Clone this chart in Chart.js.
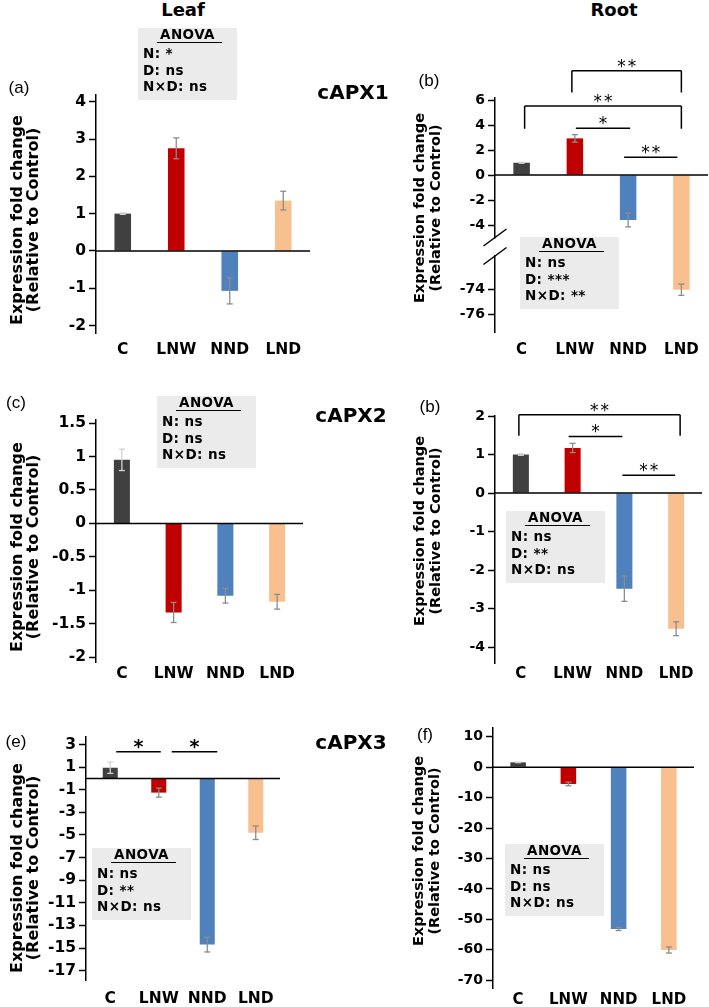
<!DOCTYPE html>
<html>
<head>
<meta charset="utf-8">
<script src="https://cdn.jsdelivr.net/npm/chart.js@4.4.0/dist/chart.umd.min.js"></script>
<style>
  html, body { margin: 0; padding: 0; background: #fff; }
  #fig { position: relative; width: 709px; height: 1007px; overflow: hidden;
         font-family: "DejaVu Sans", Verdana, sans-serif; color: #000; }
  #fig canvas { position: absolute; }
  .txt { position: absolute; white-space: nowrap; transform: translate(-50%, -50%); line-height: 1; }
  .ytitle { position: absolute; white-space: nowrap; text-align: center; font-weight: bold;
            transform: translate(-50%, -50%) rotate(-90deg); }
  .anova { position: absolute; width: 99px; height: 72px; background: #ebebeb;
           font-weight: bold; font-size: 13.5px; letter-spacing: 0.4px; }
  .anova .ah { position: absolute; left: 0; width: 100%; top: 7px; text-align: center;
               transform: translateY(-50%); line-height: 1; }
  .anova .ul { position: absolute; left: 19px; width: 65px; top: 13.5px; height: 1.5px; background: #000; }
  .anova .al { position: absolute; left: 5px; transform: translateY(-50%); line-height: 1; white-space: nowrap; }
</style>
</head>
<body>
<div id="fig"></div>
<script>
// ---- data ----
const categories = ['C', 'LNW', 'NND', 'LND'];
const barColors = ['#404040', '#c00000', '#4f81bd', '#f9c08f'];

const leafAPX1 = [1.0, 2.75, -1.07, 1.35];
const leafAPX1Err = [0.02, 0.28, 0.35, 0.25];
const rootAPX1 = [0.98, 2.93, -3.6, -74.0];
const rootAPX1Err = [0.04, 0.3, 0.55, 0.45];
const leafAPX2 = [0.95, -1.33, -1.08, -1.17];
const leafAPX2Err = [0.16, 0.15, 0.11, 0.11];
const rootAPX2 = [1.0, 1.17, -2.48, -3.52];
const rootAPX2Err = [0.02, 0.12, 0.33, 0.18];
const leafAPX3 = [0.95, -1.25, -14.7, -4.8];
const leafAPX3Err = [0.5, 0.4, 0.65, 0.6];
const rootAPX3 = [1.6, -5.5, -53.2, -60.1];
const rootAPX3Err = [0.1, 0.6, 0.5, 1.0];

const ticksLeaf1 = [4, 3, 2, 1, 0, -1, -2];
const ticksRoot1 = [6, 4, 2, 0, -2, -4, -74, -76];
const ticksLeaf2 = [1.5, 1, 0.5, 0, -0.5, -1, -1.5, -2];
const ticksRoot2 = [2, 1, 0, -1, -2, -3, -4];
const ticksLeaf3 = [3, 1, -1, -3, -5, -7, -9, -11, -13, -15, -17];
const ticksRoot3 = [10, 0, -10, -20, -30, -40, -50, -60, -70];

const anovaLeaf1 = ['N: *', 'D: ns', 'N×D: ns'];
const anovaRoot1 = ['N: ns', 'D: ***', 'N×D: **'];
const anovaLeaf2 = ['N: ns', 'D: ns', 'N×D: ns'];
const anovaRoot2 = ['N: ns', 'D: **', 'N×D: ns'];
const anovaLeaf3 = ['N: ns', 'D: **', 'N×D: ns'];
const anovaRoot3 = ['N: ns', 'D: ns', 'N×D: ns'];

const yTitle = ['Expression fold change', '(Relative to Control)'];
const FONT = '"DejaVu Sans", Verdana, sans-serif';

// y scale with a gap between two value ranges
class BrokenScale extends Chart.LinearScale {
  _k() {
    const b = this.options.brk;
    return (this.bottom - this.top - b.gap) / ((this.max - b.hi) + (b.lo - this.min));
  }
  getPixelForValue(value) {
    const b = this.options.brk, k = this._k();
    if (value >= b.hi) return this.top + k * (this.max - value);
    if (value <= b.lo) return this.bottom - k * (value - this.min);
    return this.top + k * (this.max - b.hi) + b.gap * (b.hi - value) / (b.hi - b.lo);
  }
  getValueForPixel(px) {
    const b = this.options.brk, k = this._k();
    const yHi = this.top + k * (this.max - b.hi), yLo = yHi + b.gap;
    if (px <= yHi) return this.max - (px - this.top) / k;
    if (px >= yLo) return this.min + (this.bottom - px) / k;
    return b.hi - (px - yHi) / b.gap * (b.hi - b.lo);
  }
}
BrokenScale.id = 'broken';
BrokenScale.defaults = Chart.LinearScale.defaults;
Chart.register(BrokenScale);

const fig = document.getElementById('fig');

function addText(html, x, y, css) {
  const d = document.createElement('div');
  d.className = 'txt';
  d.innerHTML = html;
  d.style.left = x + 'px';
  d.style.top = y + 'px';
  Object.assign(d.style, css || {});
  fig.appendChild(d);
}

function addYTitle(x, y, size) {
  const d = document.createElement('div');
  d.className = 'ytitle';
  d.innerHTML = yTitle.join('<br>');
  d.style.left = x + 'px';
  d.style.top = y + 'px';
  d.style.fontSize = size + 'px';
  d.style.lineHeight = '16px';
  fig.appendChild(d);
}

function addAnova(x, y, lines) {
  const d = document.createElement('div');
  d.className = 'anova';
  d.style.left = x + 'px';
  d.style.top = y + 'px';
  let h = '<div class="ah">ANOVA</div><div class="ul"></div>';
  [26, 42.5, 59].forEach((t, i) => { h += '<div class="al" style="top:' + t + 'px">' + lines[i] + '</div>'; });
  d.innerHTML = h;
  fig.appendChild(d);
}

function decorPlugin(p) {
  return {
    id: 'decor',
    afterDatasetsDraw(chart) {
      const ctx = chart.ctx, ys = chart.scales.y, xs = chart.scales.x, a = chart.chartArea;
      const line = (x1, y1, x2, y2) => { ctx.beginPath(); ctx.moveTo(x1, y1); ctx.lineTo(x2, y2); ctx.stroke(); };
      ctx.save();
      // zero line
      ctx.strokeStyle = '#000';
      ctx.lineWidth = 1.5;
      const y0 = ys.getPixelForValue(0);
      line(a.left, y0, a.right, y0);
      // error bars
      chart.getDatasetMeta(0).data.forEach((bar, i) => {
        const v = p.values[i], e = p.errors[i];
        const t = ys.getPixelForValue(v + e), b = ys.getPixelForValue(v - e);
        ctx.strokeStyle = i === 0 ? '#d4d4d4' : '#8c8c8c';
        ctx.lineWidth = 1.3;
        line(bar.x, t, bar.x, b);
        line(bar.x - 3, t, bar.x + 3, t);
        line(bar.x - 3, b, bar.x + 3, b);
      });
      // significance brackets
      ctx.strokeStyle = '#000';
      ctx.fillStyle = '#000';
      ctx.lineWidth = 1.5;
      (p.brackets || []).forEach(bk => {
        const x1 = xs.getPixelForValue(categories.indexOf(bk.from)) + (bk.dx0 || 0);
        const x2 = xs.getPixelForValue(categories.indexOf(bk.to)) + (bk.dx1 || 0);
        const yy = ys.getPixelForValue(bk.y);
        line(x1, yy, x2, yy);
        if (bk.leg !== undefined) {
          const yl = ys.getPixelForValue(bk.leg);
          line(x1, yy, x1, yl);
          line(x2, yy, x2, yl);
        }
        ctx.font = (p.starBold ? 'bold ' : '') + p.starSize + 'px ' + FONT;
        ctx.textAlign = 'center';
        ctx.textBaseline = 'alphabetic';
        if ('letterSpacing' in ctx) ctx.letterSpacing = p.starGap + 'px';
        ctx.fillText(bk.mark, (x1 + x2) / 2 + (p.starGap || 0) / 2, yy + 1);
      });
      ctx.restore();
    },
    afterDraw(chart) {
      if (!p.brk) return;
      const ctx = chart.ctx, ys = chart.scales.y, ax = chart.chartArea.left;
      const yTop = ys.getPixelForValue(p.brk.hi), yBot = ys.getPixelForValue(p.brk.lo);
      ctx.save();
      ctx.fillStyle = '#fff';
      ctx.fillRect(ax - 3, yTop + 1, 6, yBot - yTop - 2);
      ctx.strokeStyle = '#000';
      ctx.lineWidth = 1.5;
      [yTop, yBot].forEach(yc => {
        ctx.beginPath();
        ctx.moveTo(ax - 11.5, yc + 8.5);
        ctx.lineTo(ax + 11.5, yc - 8.5);
        ctx.stroke();
      });
      ctx.restore();
    }
  };
}

function makePanel(p) {
  const [cx, cy, cw, ch] = p.canvas;
  const [pl, pt, pr, pb] = p.plot;
  const cv = document.createElement('canvas');
  cv.width = cw; cv.height = ch;
  cv.style.left = cx + 'px'; cv.style.top = cy + 'px';
  cv.style.width = cw + 'px'; cv.style.height = ch + 'px';
  fig.appendChild(cv);

  const yOpts = {
    type: p.brk ? 'broken' : 'linear',
    min: p.min, max: p.max,
    afterBuildTicks: s => { s.ticks = p.ticks.map(v => ({ value: v })); },
    afterFit: s => { s.width = pl - cx; },
    grid: { drawOnChartArea: false, drawTicks: true, tickLength: 7, tickColor: '#000', tickWidth: 1.5 },
    border: { display: true, color: '#000', width: 1.5 },
    ticks: { font: { family: FONT, size: p.tickSize, weight: 'bold' }, color: '#000', padding: 3,
             autoSkip: false, callback: v => String(v) }
  };
  if (p.brk) yOpts.brk = p.brk;

  new Chart(cv, {
    type: 'bar',
    data: {
      labels: categories,
      datasets: [{ data: p.values, backgroundColor: barColors, borderWidth: 0,
                   barPercentage: 0.31, categoryPercentage: 1 }]
    },
    options: {
      responsive: false,
      animation: false,
      events: [],
      layout: { padding: { left: 0, top: pt - cy, right: cx + cw - pr, bottom: 0 } },
      plugins: { legend: { display: false }, tooltip: { enabled: false } },
      scales: {
        x: {
          offset: true,
          grid: { display: false, drawTicks: false },
          border: { display: false },
          afterFit: s => { s.height = cy + ch - pb; },
          ticks: { font: { family: FONT, size: p.labelSize, weight: 'bold' }, color: '#000',
                   padding: p.labelY - pb - p.labelSize * 0.6, maxRotation: 0, autoSkip: false }
        },
        y: yOpts
      }
    },
    plugins: [decorPlugin(p)]
  });
}

// ---- panels ----
const panels = [
  { canvas: [0, 40, 354, 330], plot: [96, 95, 310, 333], min: -2.2, max: 4.18, ticks: ticksLeaf1,
    values: leafAPX1, errors: leafAPX1Err, labelY: 350, tickSize: 15.5, labelSize: 15.5 },
  { canvas: [354, 40, 355, 330], plot: [495, 98, 708, 332], min: -77.38, max: 6.16, ticks: ticksRoot1,
    brk: { hi: -5, lo: -71.3, gap: 18.5 },
    values: rootAPX1, errors: rootAPX1Err, labelY: 350, tickSize: 14, labelSize: 15,
    starSize: 17, starGap: 2,
    brackets: [
      { from: 'LNW', to: 'LND', y: 8.35, leg: 6.6, mark: '**', dx0: -3 },
      { from: 'C', to: 'LND', y: 5.52, leg: 3.7, mark: '**', dx0: 3 },
      { from: 'LNW', to: 'NND', y: 3.74, mark: '*', dx0: 1, dx1: 2 },
      { from: 'NND', to: 'LND', y: 1.42, mark: '**', dx0: -4, dx1: -4 }
    ] },
  { canvas: [0, 380, 354, 315], plot: [96, 420, 303, 662], min: -2.07, max: 1.545, ticks: ticksLeaf2,
    values: leafAPX2, errors: leafAPX2Err, labelY: 674, tickSize: 15.5, labelSize: 15.5 },
  { canvas: [354, 380, 355, 315], plot: [495, 416, 702, 663], min: -4.41, max: 2.0, ticks: ticksRoot2,
    values: rootAPX2, errors: rootAPX2Err, labelY: 674, tickSize: 14, labelSize: 15,
    starSize: 17, starGap: 2,
    brackets: [
      { from: 'C', to: 'LND', y: 2.03, leg: 1.49, mark: '**', dx0: -2, dx1: 4 },
      { from: 'LNW', to: 'NND', y: 1.47, mark: '*', dx0: -4, dx1: -2 },
      { from: 'NND', to: 'LND', y: 0.46, mark: '**', dx0: -2, dx1: -1 }
    ] },
  { canvas: [0, 700, 354, 307], plot: [86, 737, 280, 980], min: -17.83, max: 3.67, ticks: ticksLeaf3,
    values: leafAPX3, errors: leafAPX3Err, labelY: 999, tickSize: 15.5, labelSize: 15.5,
    starSize: 19, starBold: true, starGap: 0,
    brackets: [
      { from: 'C', to: 'LNW', y: 2.37, mark: '*', dx0: 6, dx1: 2 },
      { from: 'LNW', to: 'NND', y: 2.37, mark: '*', dx0: 13, dx1: 10 }
    ] },
  { canvas: [354, 700, 355, 307], plot: [493, 728, 694, 988], min: -72.6, max: 12.9, ticks: ticksRoot3,
    values: rootAPX3, errors: rootAPX3Err, labelY: 1000, tickSize: 14, labelSize: 15 }
];
panels.forEach(makePanel);

// ---- text overlays ----
addText('Leaf', 183, 10, { fontWeight: 'bold', fontSize: '18px' });
addText('Root', 614, 10, { fontWeight: 'bold', fontSize: '18px' });

addText('cAPX1', 353, 92, { fontWeight: 'bold', fontSize: '20px' });
addText('cAPX2', 351, 415, { fontWeight: 'bold', fontSize: '20px' });
addText('cAPX3', 351, 742, { fontWeight: 'bold', fontSize: '20px' });

const letterCss = { fontFamily: '"Liberation Sans", Arial, sans-serif', fontSize: '17px' };
addText('(a)', 19, 87, letterCss);
addText('(b)', 429, 80, letterCss);
addText('(c)', 16, 402, letterCss);
addText('(b)', 430, 406, letterCss);
addText('(e)', 16, 741, letterCss);
addText('(f)', 425, 734, letterCss);

addYTitle(25, 220, 16);
addYTitle(25, 547, 16);
addYTitle(25, 868, 16);
addYTitle(427, 208, 14.5);
addYTitle(427, 531, 14.5);
addYTitle(426, 851, 14.5);

addAnova(138, 28, anovaLeaf1);
addAnova(520, 237, anovaRoot1);
addAnova(157, 396, anovaLeaf2);
addAnova(506, 511, anovaRoot2);
addAnova(92, 848, anovaLeaf3);
addAnova(505, 844, anovaRoot3);
</script>
</body>
</html>
